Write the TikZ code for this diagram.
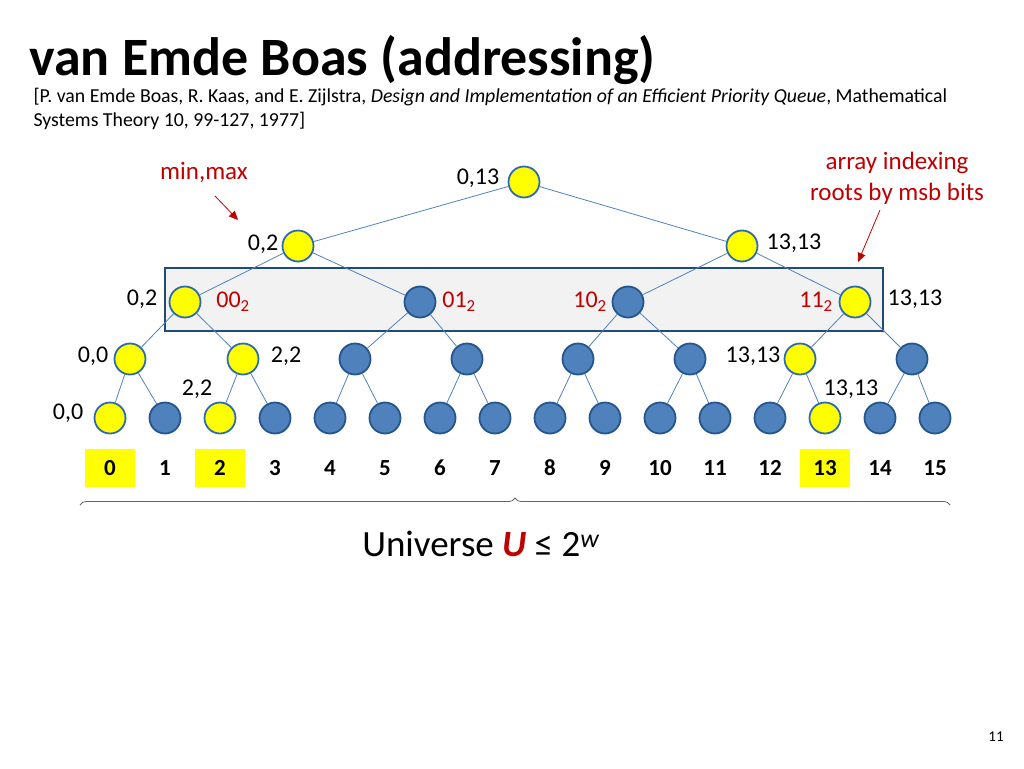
\documentclass[tikz,border=0pt]{standalone}
\usepackage{fontspec}
\setmainfont{Carlito}
\usetikzlibrary{decorations.pathreplacing,arrows.meta}
\definecolor{ylw}{HTML}{FFFF00}
\definecolor{bnode}{HTML}{4F81BD}
\definecolor{bdr}{HTML}{2E6AB0}
\definecolor{redt}{HTML}{C00000}
\begin{document}
\begin{tikzpicture}[x=1pt,y=-1pt,
  yn/.style={circle,draw=bdr,line width=1.8pt,fill=ylw,minimum size=31pt,inner sep=0},
  bn/.style={circle,draw=bdr!80!black,line width=1.8pt,fill=bnode,minimum size=31pt,inner sep=0},
  lbl/.style={font=\fontsize{24}{26}\selectfont},
  rl/.style={font=\fontsize{24}{26}\selectfont,text=redt},
  ed/.style={draw=bnode,line width=0.8pt},
  num/.style={font=\fontsize{23}{25}\selectfont\bfseries,minimum width=50pt,minimum height=38pt,inner sep=0,text height=15pt,text depth=0pt}]
\useasboundingbox (0,0) rectangle (1024,768);
\node[anchor=base west,font=\fontsize{54}{58}\selectfont\bfseries] (title) at (26,75) {van Emde Boas (addressing)};
\node[anchor=base west,font=\fontsize{19.8}{22}\selectfont] (cit1) at (30,102) {[P. van Emde Boas, R. Kaas, and E. Zijlstra, \textit{Design and Implementation of an Efficient Priority Queue}, Mathematical};
\node[anchor=base west,font=\fontsize{19.8}{22}\selectfont] (cit2) at (30,126) {Systems Theory 10, 99-127, 1977]};
\node[draw=bdr!70!black,line width=2.5pt,fill=black!5,inner sep=0,minimum width=718pt,minimum height=63pt] (box) at (524,299.5) {};
% nodes
\node[yn] (r) at (524,182) {};
\node[yn] (a1) at (298,246) {};
\node[yn] (a2) at (742,246) {};
\node[yn] (b1) at (185,302) {};
\node[bn] (b2) at (420,302) {};
\node[bn] (b3) at (628,302) {};
\node[yn] (b4) at (855,302) {};
\foreach \x/\s [count=\i] in {130/yn,243/yn,355/bn,467/bn,578/bn,690/bn,800/yn,912/bn}
  \node[\s] (c\i) at (\x,359) {};
\foreach \s [count=\i from 0] in {yn,bn,yn,bn,bn,bn,bn,bn,bn,bn,bn,bn,bn,yn,bn,bn}
  \node[\s] (d\i) at (110+55*\i,418) {};
% edges
\draw[ed] (r)--(a1) (r)--(a2) (a1)--(b1) (a1)--(b2) (a2)--(b3) (a2)--(b4);
\draw[ed] (b1)--(c1) (b1)--(c2) (b2)--(c3) (b2)--(c4) (b3)--(c5) (b3)--(c6) (b4)--(c7) (b4)--(c8);
\foreach \i in {1,...,8}{
  \pgfmathtruncatemacro{\l}{2*\i-2}\pgfmathtruncatemacro{\r}{2*\i-1}
  \draw[ed] (c\i)--(d\l) (c\i)--(d\r);}
% labels
\node[lbl] (l1) at (478,178) {0,13};
\node[lbl] (l2) at (263,244) {0,2};
\node[lbl] (l3) at (794,243) {13,13};
\node[lbl] (l4) at (142,299) {0,2};
\node[lbl] (l5) at (915,299) {13,13};
\node[lbl] (l6) at (93,356) {0,0};
\node[lbl] (l7) at (286,356) {2,2};
\node[lbl] (l8) at (753,356) {13,13};
\node[lbl] (l9) at (197,389) {2,2};
\node[lbl] (l10) at (851,389) {13,13};
\node[lbl] (l11) at (68,413) {0,0};
\node[rl] (k1) at (233,302) {00\textsubscript{2}};
\node[rl] (k2) at (459,302) {01\textsubscript{2}};
\node[rl] (k3) at (590,302) {10\textsubscript{2}};
\node[rl] (k4) at (816,302) {11\textsubscript{2}};
% numbers
\foreach \i in {0,...,15}{
  \ifnum\i=0 \node[num,fill=ylw] (n\i) at (110+55*\i,468) {\i};
  \else\ifnum\i=2 \node[num,fill=ylw] (n\i) at (110+55*\i,468) {\i};
  \else\ifnum\i=13 \node[num,fill=ylw] (n\i) at (110+55*\i,468) {\i};
  \else \node[num] (n\i) at (110+55*\i,468) {\i};\fi\fi\fi}
\coordinate (bl) at (80,505); \coordinate (br) at (950,505);
\draw[black!60,line width=0.8pt,decorate,decoration={brace,mirror,amplitude=7pt}] (br)--(bl);
\node[font=\fontsize{37}{40}\selectfont] (uni) at (481,544) {Universe \textcolor{redt}{\textbf{\textit{U}}} ≤ 2\textsuperscript{\textit{w}}};
% annotations
\node[rl,font=\fontsize{25}{27}\selectfont] (mm) at (204,172) {min,max};
\coordinate (m1) at (215,196); \coordinate (m2) at (238,220);
\draw[redt,line width=0.8pt,-{Triangle[length=9pt,width=8pt]}] (m1)--(m2);
\node[rl,align=center,font=\fontsize{25}{31}\selectfont] (ai) at (897,178) {array indexing\\roots by msb bits};
\coordinate (a1s) at (880,210); \coordinate (a1e) at (858,262);
\draw[redt,line width=0.8pt,-{Triangle[length=9pt,width=8pt]}] (a1s)--(a1e);
\node[font=\fontsize{15}{16}\selectfont] (pg) at (996,737) {11};
\end{tikzpicture}
\end{document}
